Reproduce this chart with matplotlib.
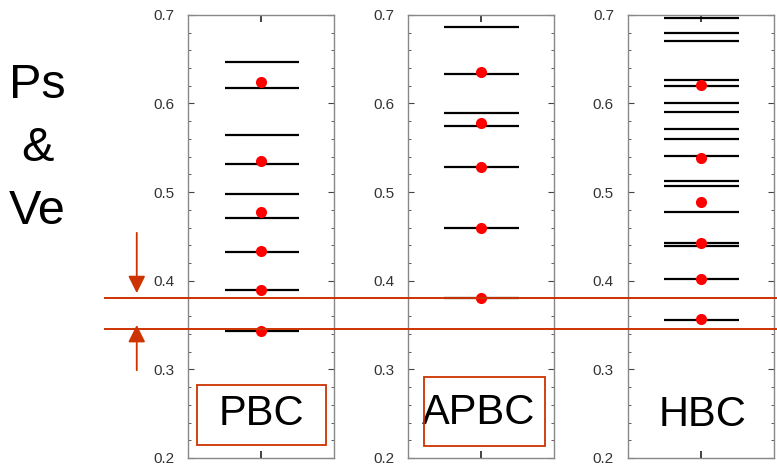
import matplotlib.pyplot as plt
import matplotlib.transforms as mtransforms
from matplotlib.lines import Line2D
from matplotlib.patches import Rectangle

plt.rcParams['font.family'] = ['Liberation Sans', 'DejaVu Sans']

# energy levels (black bars) and marked states (red dots) per boundary condition
panel_names = ['PBC', 'APBC', 'HBC']
pbc_levels = [0.647, 0.617, 0.564, 0.532, 0.498, 0.471, 0.432, 0.390, 0.343]
pbc_dots = [0.624, 0.535, 0.477, 0.433, 0.390, 0.343]
apbc_levels = [0.686, 0.633, 0.589, 0.575, 0.528, 0.460, 0.380]
apbc_dots = [0.636, 0.578, 0.528, 0.460, 0.380]
hbc_levels = [0.696, 0.679, 0.670, 0.626, 0.620, 0.601, 0.590, 0.571,
              0.560, 0.541, 0.513, 0.507, 0.478, 0.442, 0.439, 0.402, 0.356]
hbc_dots = [0.621, 0.538, 0.489, 0.443, 0.402, 0.357]
gap_edges = [0.380, 0.346]

levels = [pbc_levels, apbc_levels, hbc_levels]
dots = [pbc_dots, apbc_dots, hbc_dots]

red = '#cc3300'
fig = plt.figure(figsize=(7.77, 4.69), dpi=100)
lefts = [0.242, 0.525, 0.808]
axes = []
for i, left in enumerate(lefts):
    ax = fig.add_axes([left, 0.0235, 0.188, 0.945])
    axes.append(ax)
    ax.hlines(levels[i], 0.25, 0.76, color='black', lw=1.6)
    ax.plot([0.5] * len(dots[i]), dots[i], 'o', color='#ff0000',
            markersize=8, markeredgewidth=0, zorder=3)
    ax.set_xlim(0, 1)
    ax.set_ylim(0.2, 0.7)
    ax.set_yticks([0.2, 0.3, 0.4, 0.5, 0.6, 0.7])
    ax.set_yticks([0.2 + 0.02 * k for k in range(26)], minor=True)
    ax.set_xticks([0.5])
    ax.set_xticklabels([])
    ax.tick_params(axis='both', which='both', direction='in', left=True,
                   right=True, top=True, bottom=True, colors='#444444')
    ax.tick_params(axis='y', which='major', length=4.5, width=0.8,
                   labelsize=11, labelcolor='#333333', pad=10)
    ax.tick_params(axis='y', which='minor', length=2.5, width=0.6)
    ax.tick_params(axis='x', length=5, width=1.2, colors='#222222')
    for s in ax.spines.values():
        s.set_color('#888888')
        s.set_linewidth(1.0)

# labels
axes[0].add_patch(Rectangle((0.062, 0.2147), 0.883, 0.0678, fill=False,
                            edgecolor=red, lw=1.3, zorder=4))
axes[0].text(0.5, 0.2497, panel_names[0], ha='center', va='center', fontsize=30)
axes[1].add_patch(Rectangle((0.11, 0.2135), 0.83, 0.0779, fill=False,
                            edgecolor=red, lw=1.3, zorder=4))
axes[1].text(0.486, 0.2508, panel_names[1], ha='center', va='center', fontsize=30)
axes[2].text(0.514, 0.2485, panel_names[2], ha='center', va='center', fontsize=30)

# gap lines across the figure
trans = mtransforms.blended_transform_factory(fig.transFigure, axes[0].transData)
for y in gap_edges:
    fig.add_artist(Line2D([0.135, 1.0], [y, y], transform=trans, color=red,
                          lw=1.4, clip_on=False))

# arrows pointing at the gap
ax0 = axes[0]
ax0.annotate('', xy=(0.176, 0.386), xytext=(0.176, 0.454), xycoords=trans,
             textcoords=trans,
             arrowprops=dict(arrowstyle='-|>', color=red, lw=1.3,
                             mutation_scale=26, shrinkA=0, shrinkB=0))
ax0.annotate('', xy=(0.176, 0.350), xytext=(0.176, 0.299), xycoords=trans,
             textcoords=trans,
             arrowprops=dict(arrowstyle='-|>', color=red, lw=1.3,
                             mutation_scale=26, shrinkA=0, shrinkB=0))

fig.text(0.048, 0.684, 'Ps\n&\nVe', ha='center', va='center', fontsize=35,
         linespacing=1.52)

fig.savefig('out.png', dpi=100)
